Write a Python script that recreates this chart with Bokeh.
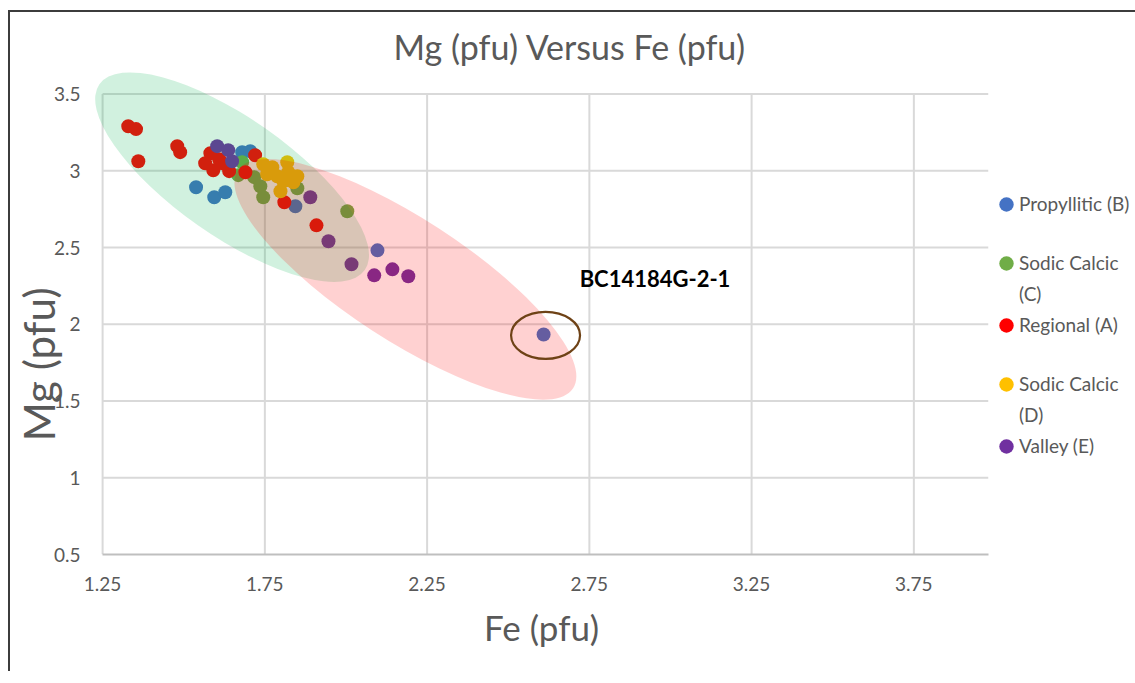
from bokeh.plotting import figure
from bokeh.models import Range1d, FixedTicker, NumeralTickFormatter, Legend, LegendItem
from bokeh.core.properties import value
from bokeh.embed import file_html
from bokeh.resources import INLINE

# ---------------- data (Fe pfu, Mg pfu) ----------------
propyllitic_fe = [1.538, 1.594, 1.628, 1.680, 1.705, 1.844, 2.097, 2.609]
propyllitic_mg = [2.893, 2.828, 2.861, 3.122, 3.128, 2.769, 2.482, 1.934]

sodic_c_fe = [1.680, 1.668, 1.717, 1.736, 1.745, 1.850, 2.004]
sodic_c_mg = [3.056, 2.972, 2.959, 2.900, 2.828, 2.887, 2.737]

regional_fe = [1.329, 1.353, 1.360, 1.480, 1.489, 1.566, 1.582, 1.591, 1.609,
               1.619, 1.640, 1.690, 1.720, 1.810, 1.909]
regional_mg = [3.291, 3.272, 3.063, 3.161, 3.122, 3.050, 3.115, 3.004, 3.076,
               3.050, 2.998, 2.991, 3.102, 2.795, 2.645]

sodic_d_fe = [1.745, 1.773, 1.819, 1.788, 1.807, 1.838, 1.798, 1.822, 1.757, 1.850]
sodic_d_mg = [3.043, 3.024, 3.056, 2.965, 2.932, 2.926, 2.867, 2.991, 2.978, 2.965]

valley_fe = [1.603, 1.637, 1.649, 1.890, 1.946, 2.017, 2.087, 2.143, 2.192]
valley_mg = [3.161, 3.135, 3.063, 2.828, 2.541, 2.391, 2.319, 2.358, 2.313]

series_names = ["Propyllitic (B)", "Sodic Calcic (C)", "Regional (A)", "Sodic Calcic (D)", "Valley (E)"]
series_colors = ["#4472C4", "#70AD47", "#FF0000", "#FFC000", "#7030A0"]

x_ticks = [1.25, 1.75, 2.25, 2.75, 3.25, 3.75]
y_ticks = [0.5, 1.0, 1.5, 2.0, 2.5, 3.0, 3.5]
x_min, x_max = 1.25, 3.98
y_min, y_max = 0.5, 3.5

# overlay shapes (centres in data units)
green_zone_center = (1.649, 2.959)
red_zone_center = (2.183, 2.293)
sample_center = (2.615, 1.928)
sample_label = "BC14184G-2-1"
sample_label_pos = (2.72, 2.30)

GREY = "#595959"
FONT = "Lato"
NBSP = "\u00a0"

# range padded a little beyond the plot area so the zones are not cut
p = figure(frame_width=894, frame_height=488,
           x_range=Range1d(1.225, x_max), y_range=Range1d(y_min, 3.68),
           output_backend="svg", toolbar_location=None,
           min_border_left=78, min_border_right=149,
           min_border_top=54, min_border_bottom=117,
           background_fill_color="white", border_fill_color="white",
           outline_line_color=None,
           styles={"border-top": "2px solid #3c3c3c", "border-left": "2px solid #3c3c3c",
                   "margin-top": "10px", "margin-left": "8px"})

p.title.text = "Mg (pfu)  Versus Fe (pfu)"
p.title.align = "left"
p.title.offset = 299
p.title.text_font = FONT
p.title.text_font_style = "normal"
p.title.text_font_size = "34px"
p.title.text_color = GREY
p.title.standoff = 0

# axes
p.xaxis.ticker = FixedTicker(ticks=x_ticks)
p.yaxis.ticker = FixedTicker(ticks=y_ticks)
p.xaxis.formatter = NumeralTickFormatter(format="0.[00]")
p.yaxis.formatter = NumeralTickFormatter(format="0.[00]")
for ax in (p.xaxis, p.yaxis):
    ax.major_tick_line_color = None
    ax.minor_tick_line_color = None
    ax.major_label_text_font = FONT
    ax.major_label_text_font_size = "19px"
    ax.major_label_text_color = GREY
    ax.axis_label_text_font = FONT
    ax.axis_label_text_font_style = "normal"
    ax.axis_label_text_color = GREY
p.xaxis.bounds = (x_min, x_max)
p.xaxis.axis_line_color = "#bfbfbf"
p.xaxis.axis_line_width = 2
p.yaxis.axis_line_color = None
p.xaxis.axis_label = "Fe (pfu)"
p.xaxis.axis_label_text_font_size = "35px"
p.xaxis.major_label_standoff = 16
p.xaxis.axis_label_standoff = 12
p.yaxis.axis_label = "Mg (pfu)" + NBSP * 10
p.yaxis.axis_label_text_font_size = "42px"
p.yaxis.major_label_standoff = 8
p.yaxis.axis_label_standoff = -13
p.grid.visible = False

# gridlines limited to the plot area
GRID = dict(line_color="#d9d9d9", line_width=2)
p.segment(x0=x_ticks, y0=[y_min] * len(x_ticks), x1=x_ticks, y1=[y_max] * len(x_ticks), **GRID)
p.segment(x0=[x_min] * len(y_ticks[1:]), y0=y_ticks[1:], x1=[x_max] * len(y_ticks[1:]), y1=y_ticks[1:], **GRID)

# data points (series order as in legend, later on top)
all_x = [propyllitic_fe, sodic_c_fe, regional_fe, sodic_d_fe, valley_fe]
all_y = [propyllitic_mg, sodic_c_mg, regional_mg, sodic_d_mg, valley_mg]
for xs, ys, c in zip(all_x, all_y, series_colors):
    p.scatter(xs, ys, size=14, marker="circle", fill_color=c, line_color=None)

# translucent zones drawn over the points
p.ellipse(x=[green_zone_center[0]], y=[green_zone_center[1]], width=324, height=118,
          angle=-0.611, width_units="screen", height_units="screen",
          fill_color="#00B050", fill_alpha=0.18, line_color=None)
p.ellipse(x=[red_zone_center[0]], y=[red_zone_center[1]], width=400, height=122,
          angle=-0.576, width_units="screen", height_units="screen",
          fill_color="#FF0000", fill_alpha=0.18, line_color=None)

# highlighted sample
p.ellipse(x=[sample_center[0]], y=[sample_center[1]], width=69, height=47,
          width_units="screen", height_units="screen",
          fill_alpha=0, line_color="#6E4216", line_width=2.2)
p.text(x=[sample_label_pos[0]], y=[sample_label_pos[1]], text=[sample_label],
       text_font=value(FONT), text_font_style="bold", text_font_size="22px",
       text_color="black", text_align="left", text_baseline="middle")

# legend swatches (round, no visible data of their own)
def swatch(c, alpha=1.0):
    return p.ellipse(x=[float("nan")], y=[float("nan")], width=14, height=14,
                     width_units="screen", height_units="screen",
                     fill_color=c, line_color=None, fill_alpha=alpha)

blank = swatch("#ffffff", 0.0)
legend_rows = [
    ("Propyllitic (B)", swatch(series_colors[0])),
    (" ", blank),
    ("Sodic Calcic", swatch(series_colors[1])),
    ("(C)", blank),
    ("Regional (A)", swatch(series_colors[2])),
    (" ", blank),
    ("Sodic Calcic", swatch(series_colors[3])),
    ("(D)", blank),
    ("Valley (E)", swatch(series_colors[4])),
]
legend = Legend(items=[LegendItem(label=value(t), renderers=[r]) for t, r in legend_rows],
                location=(9, 97), margin=0, padding=0,
                glyph_width=18, glyph_height=18, label_height=20, spacing=8,
                label_standoff=4, label_text_font=FONT, label_text_font_size="19px",
                label_text_color=GREY, border_line_color=None, background_fill_alpha=0)
p.add_layout(legend, "right")

open("out.html", "w").write(file_html(p, INLINE))
